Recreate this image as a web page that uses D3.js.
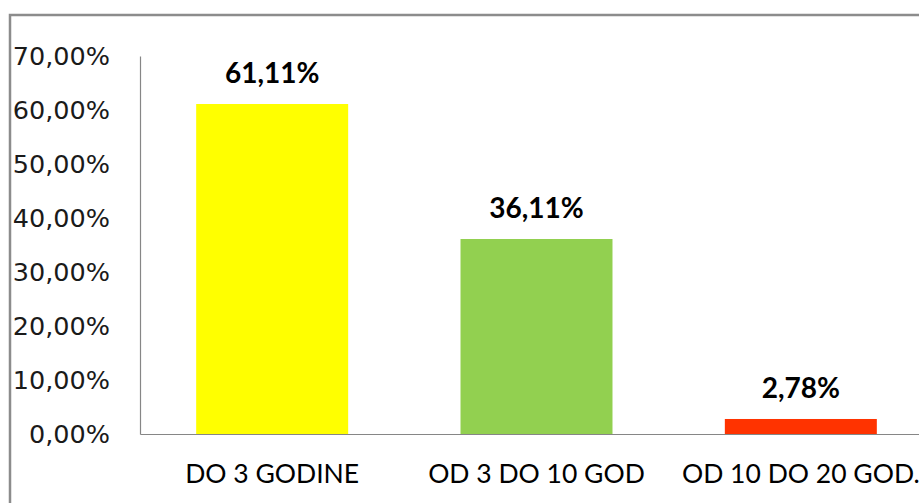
<!DOCTYPE html>
<html>
<head>
<meta charset="utf-8">
<script src="https://cdn.jsdelivr.net/npm/d3@7"></script>
<style>
  body { margin: 0; background: #fff; }
  svg { display: block; }
</style>
</head>
<body>
<div id="chart"></div>
<script>
// Data
const categories = ['DO 3 GODINE', 'OD 3 DO 10 GOD', 'OD 10 DO 20 GOD.'];
const values = [61.11, 36.11, 2.78];
const barColors = ['#ffff00', '#92d050', '#ff3300'];
const yTicks = [0, 10, 20, 30, 40, 50, 60, 70];

const width = 919;
const height = 503;

const svg = d3.select('#chart').append('svg')
  .attr('width', width)
  .attr('height', height);

// outer frame (runs off right and bottom edges)
svg.append('rect')
  .attr('x', 10)
  .attr('y', 15)
  .attr('width', 960)
  .attr('height', 560)
  .attr('fill', 'none')
  .attr('stroke', '#8c8c8c')
  .attr('stroke-width', 2.5);

const x = d3.scaleBand()
  .domain(categories)
  .range([140, 933])
  .paddingInner(0.425)
  .paddingOuter(0.2125);

const y = d3.scaleLinear()
  .domain([0, 70])
  .range([434, 56]);

const fmt = v => v.toFixed(2).replace('.', ',') + '%';

// bars
svg.selectAll('rect.bar')
  .data(values)
  .enter().append('rect')
  .attr('class', 'bar')
  .attr('x', (d, i) => x(categories[i]))
  .attr('y', d => y(d))
  .attr('width', x.bandwidth())
  .attr('height', d => y(0) - y(d))
  .attr('fill', (d, i) => barColors[i]);

// y axis
const yAxis = svg.append('g')
  .attr('transform', 'translate(140,0)')
  .call(d3.axisLeft(y).tickValues(yTicks).tickSize(0).tickPadding(30)
    .tickFormat(d => d.toFixed(2).replace('.', ',') + '%'));
yAxis.attr('font-family', null);
yAxis.select('.domain').attr('stroke', '#868686').attr('stroke-width', 1.2);
yAxis.selectAll('text')
  .style('font-family', '"DejaVu Sans", Verdana, sans-serif')
  .style('font-size', '25.5px')
  .attr('fill', '#1a1a1a');

// x axis
const xAxis = svg.append('g')
  .attr('transform', 'translate(0,434)')
  .call(d3.axisBottom(x).tickSize(0).tickPadding(30).tickSizeOuter(0));
xAxis.select('.domain').attr('stroke', '#868686').attr('stroke-width', 1.2);
xAxis.selectAll('text')
  .style('font-family', 'Lato, "Open Sans", sans-serif')
  .style('font-size', '26.5px')
  .attr('fill', '#000');

// value labels
svg.selectAll('text.val')
  .data(values)
  .enter().append('text')
  .attr('class', 'val')
  .attr('x', (d, i) => x(categories[i]) + x.bandwidth() / 2)
  .attr('y', d => y(d) - 21)
  .attr('text-anchor', 'middle')
  .style('font-family', 'Lato, "Open Sans", sans-serif')
  .style('font-weight', 'bold')
  .style('font-size', '28px')
  .attr('fill', '#000')
  .text(d => fmt(d));
</script>
</body>
</html>
